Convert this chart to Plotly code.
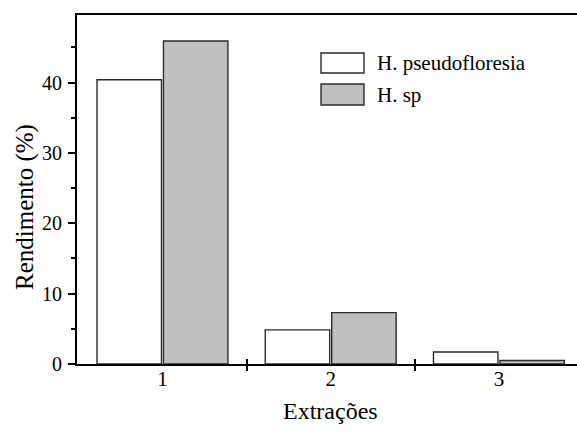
import plotly.graph_objects as go

categories = [1, 2, 3]
tick_labels = ["1", "2", "3"]
series_names = ["H. pseudofloresia", "H. sp"]
pseudofloresia = [40.4, 4.85, 1.7]
h_sp = [45.9, 7.3, 0.5]
y_ticks = [0, 10, 20, 30, 40]

FONT = "Liberation Serif, Times New Roman, serif"
fills = ["#ffffff", "#c0c0c0"]
outline = "#2b2b2b"

fig = go.Figure()
for name, vals, fc in zip(series_names, [pseudofloresia, h_sp], fills):
    fig.add_trace(go.Bar(
        x=categories, y=vals, name=name,
        marker=dict(color=fc, line=dict(color=outline, width=1.4)),
        showlegend=False,
    ))

# overlay axis for the inside half of the separator ticks
fig.add_trace(go.Scatter(x=[1], y=[0], xaxis="x2", mode="markers",
                         marker=dict(opacity=0), showlegend=False, hoverinfo="skip"))

fig.update_layout(
    width=577, height=432,
    margin=dict(l=77, r=0, t=15, b=68),
    paper_bgcolor="white", plot_bgcolor="white",
    barmode="group", bargap=0.21, bargroupgap=0.03,
    font=dict(family=FONT, size=20, color="black"),
    xaxis=dict(
        range=[0.492, 3.464], tickvals=categories, ticktext=tick_labels,
        ticks="", showgrid=False, zeroline=False,
        showline=True, linecolor="black", linewidth=2, mirror=True,
        ticklabelstandoff=-5,
        minor=dict(tickvals=[1.5, 2.5], ticks="outside", ticklen=5,
                   tickwidth=1.5, tickcolor="black", showgrid=False),
        tickfont=dict(family=FONT, size=21),
    ),
    xaxis2=dict(
        overlaying="x", range=[0.492, 3.464], tickvals=[1.5, 2.5],
        ticks="inside", ticklen=5, tickwidth=1.5, tickcolor="black",
        showticklabels=False, showgrid=False, zeroline=False, showline=False,
    ),
    yaxis=dict(
        range=[0, 49.6], tickvals=y_ticks, ticks="outside", ticklen=7,
        tickwidth=1.5, tickcolor="black", showgrid=False, zeroline=False,
        showline=True, linecolor="black", linewidth=2, mirror=False,
        ticklabelstandoff=2,
        minor=dict(dtick=5, tick0=5, ticks="outside", ticklen=4,
                   tickwidth=1.5, tickcolor="black", showgrid=False),
        tickfont=dict(family=FONT, size=20),
    ),
)

# axis titles
fig.add_annotation(text="Extrações", xref="paper", yref="paper",
                   x=0.506, y=(364 - 411) / 349, xanchor="center", yanchor="middle",
                   showarrow=False, font=dict(family=FONT, size=24))
fig.add_annotation(text="Rendimento (%)", xref="paper", yref="paper",
                   x=(25 - 77) / 500, y=(364 - 207) / 349, textangle=-90,
                   xanchor="center", yanchor="middle", showarrow=False,
                   font=dict(family=FONT, size=25))

# custom legend (large swatches like the original)
legend_rows = [(53, 73), (84, 105)]
for (top, bot), name, fc in zip(legend_rows, series_names, fills):
    fig.add_shape(type="rect", xref="paper", yref="paper",
                  x0=(321 - 77) / 500, x1=(364 - 77) / 500,
                  y0=(364 - bot) / 349, y1=(364 - top) / 349,
                  fillcolor=fc, line=dict(color=outline, width=1.4))
    fig.add_annotation(text=name, xref="paper", yref="paper",
                       x=(375 - 77) / 500, y=(364 - (top + bot) / 2) / 349,
                       xanchor="left", yanchor="middle", showarrow=False,
                       font=dict(family=FONT, size=21))

fig.write_html("out.html", config={"displayModeBar": False},
               post_script="document.body.style.margin='0';")
